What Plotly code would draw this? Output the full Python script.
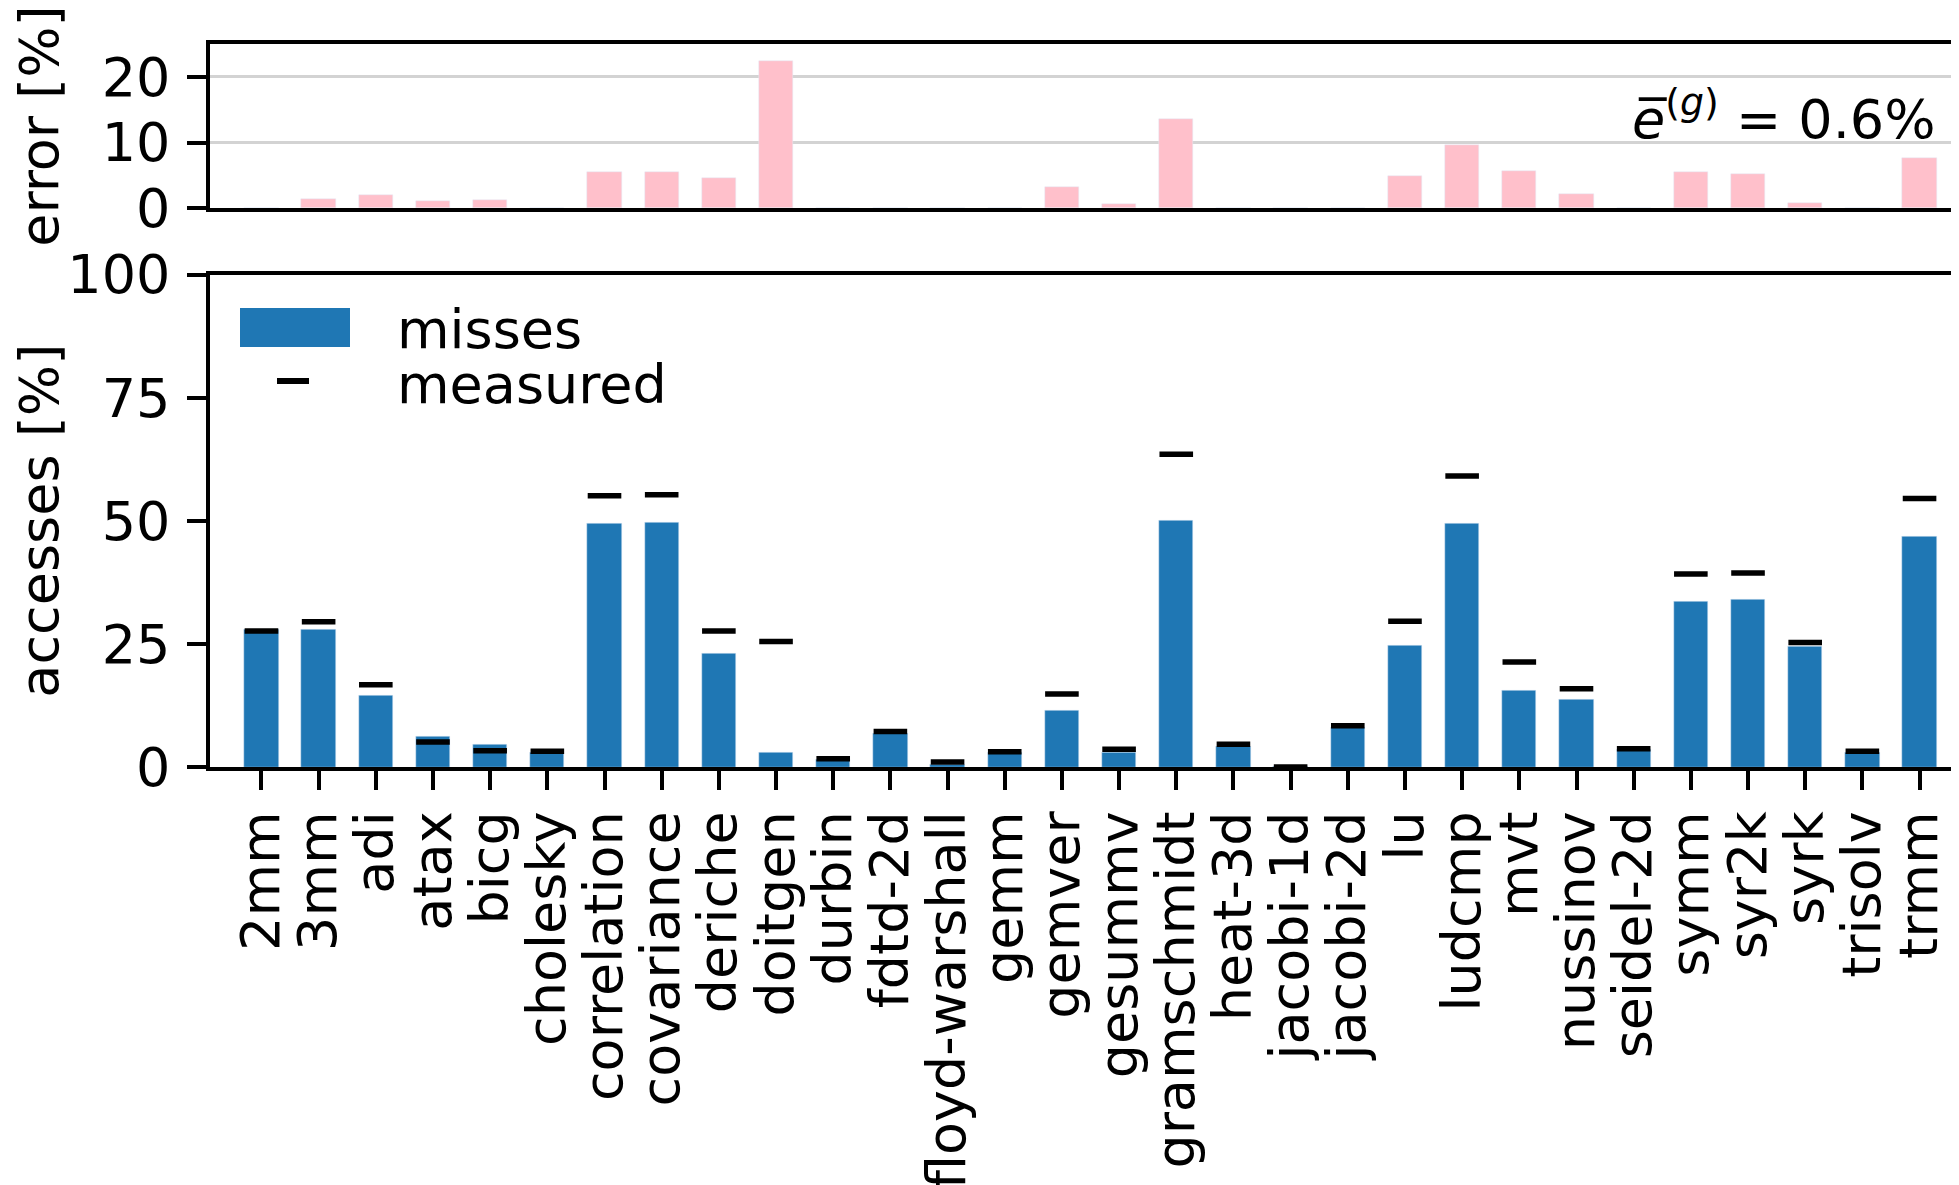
import plotly.graph_objects as go

categories = ["2mm", "3mm", "adi", "atax", "bicg", "cholesky", "correlation", "covariance",
              "deriche", "doitgen", "durbin", "fdtd-2d", "floyd-warshall", "gemm", "gemver",
              "gesummv", "gramschmidt", "heat-3d", "jacobi-1d", "jacobi-2d", "lu", "ludcmp",
              "mvt", "nussinov", "seidel-2d", "symm", "syr2k", "syrk", "trisolv", "trmm"]
misses = [28.0, 28.0, 14.6, 6.2, 4.6, 2.9, 49.5, 49.7, 23.0, 3.0, 1.5, 6.8, 0.5, 2.9, 11.5,
          3.0, 50.1, 4.1, 0.1, 8.0, 24.7, 49.5, 15.6, 13.8, 3.5, 33.7, 34.1, 24.4, 2.9, 46.9]
measured = [27.6, 29.5, 16.7, 5.1, 3.3, 3.2, 55.1, 55.3, 27.6, 25.5, 1.7, 7.2, 1.0, 3.1, 14.8,
            3.6, 63.5, 4.6, 0.0, 8.4, 29.6, 59.1, 21.3, 15.9, 3.7, 39.2, 39.4, 25.3, 3.2, 54.5]
error = [0.1, 1.4, 2.0, 1.1, 1.3, 0.0, 5.5, 5.5, 4.6, 22.4, 0.0, 0.0, 0.0, 0.0, 3.25,
         0.65, 13.6, 0.0, 0.0, 0.0, 4.9, 9.65, 5.7, 2.2, 0.0, 5.5, 5.2, 0.8, 0.0, 7.7]
mean_error_label = "0.6%"

OFF = 8  # page body margin
W, H = 1951, 1177
ML, MR, MT, MB = 202, 0, 36, 418
PW, PH = W - ML - MR, H - MT - MB
FONT = "DejaVu Sans"
FS = 54
LW = 3.5


def px(xs):
    return (xs - OFF - ML) / PW


def py(ys):
    return (H - MB - (ys - OFF)) / PH


fig = go.Figure()
fig.add_trace(go.Bar(x=categories, y=error, marker_color="pink", width=0.6,
                     xaxis="x", yaxis="y", showlegend=False))
fig.add_trace(go.Bar(x=categories, y=misses, marker_color="#1f77b4", width=0.6,
                     xaxis="x2", yaxis="y2", name="misses", showlegend=False))
fig.add_trace(go.Scatter(x=categories, y=measured, mode="markers", xaxis="x2", yaxis="y2",
                         marker=dict(symbol="line-ew", size=24, color="black",
                                     line=dict(color="black", width=5.5)),
                         name="measured", showlegend=False, cliponaxis=False))

xrange = [-0.90, 29.69]
axis_common = dict(linecolor="black", linewidth=LW, showgrid=False, zeroline=False)
fig.update_layout(
    width=W, height=H, margin=dict(l=ML, r=MR, t=MT, b=MB, autoexpand=False),
    plot_bgcolor="white", paper_bgcolor="white",
    font=dict(family=FONT, size=FS, color="black"),
    bargap=0,
    xaxis=dict(domain=[0, 1], anchor="y", range=xrange, type="category", showticklabels=False,
               ticks="", mirror=True, matches="x2", **axis_common),
    yaxis=dict(domain=[py(208.3), 1.0], anchor="x", range=[0, 25],
               tickvals=[0, 10, 20], ticks="outside", ticklen=19, tickwidth=LW,
               tickcolor="black", ticklabelstandoff=6,
               tickfont=dict(family=FONT, size=FS),
               title=dict(text="error [%]", font=dict(family=FONT, size=FS), standoff=29),
               linecolor="black", linewidth=LW, showgrid=True, gridcolor="#d3d3d3",
               gridwidth=3, zeroline=False),
    xaxis2=dict(domain=[0, 1], anchor="y2", range=xrange, type="category",
                tickmode="array", tickvals=categories, ticktext=categories,
                ticks="outside", ticklen=19, tickwidth=LW, tickcolor="black",
                tickangle=-90, ticklabelstandoff=0, tickfont=dict(family=FONT, size=FS),
                mirror=True, **axis_common),
    yaxis2=dict(domain=[0, py(274.5)], anchor="x2", range=[0, 100],
                tickvals=[0, 25, 50, 75, 100], ticks="outside", ticklen=19, tickwidth=LW,
                tickcolor="black", ticklabelstandoff=6,
                tickfont=dict(family=FONT, size=FS),
                title=dict(text="accesses [%]", font=dict(family=FONT, size=FS), standoff=10),
                **axis_common),
)

# legend (drawn manually to match the large patch size)
fig.add_shape(type="rect", xref="paper", yref="paper",
              x0=px(240), x1=px(350), y0=py(347), y1=py(308),
              fillcolor="#1f77b4", line=dict(width=0))
fig.add_shape(type="line", xref="paper", yref="paper",
              x0=px(277), x1=px(309), y0=py(381), y1=py(381),
              line=dict(color="black", width=6))
fig.add_annotation(xref="paper", yref="paper", x=px(395), y=py(329), text="misses",
                   showarrow=False, xanchor="left", yanchor="middle",
                   font=dict(family=FONT, size=FS))
fig.add_annotation(xref="paper", yref="paper", x=px(395), y=py(384), text="measured",
                   showarrow=False, xanchor="left", yanchor="middle",
                   font=dict(family=FONT, size=FS))

# mean error annotation
fig.add_annotation(xref="paper", yref="paper", x=px(1938), y=py(116),
                   text="<i>e\u0305</i><sup>(<i>g</i>)</sup> = " + mean_error_label,
                   showarrow=False, xanchor="right", yanchor="middle",
                   font=dict(family=FONT, size=FS))

fig.write_html("out.html")
